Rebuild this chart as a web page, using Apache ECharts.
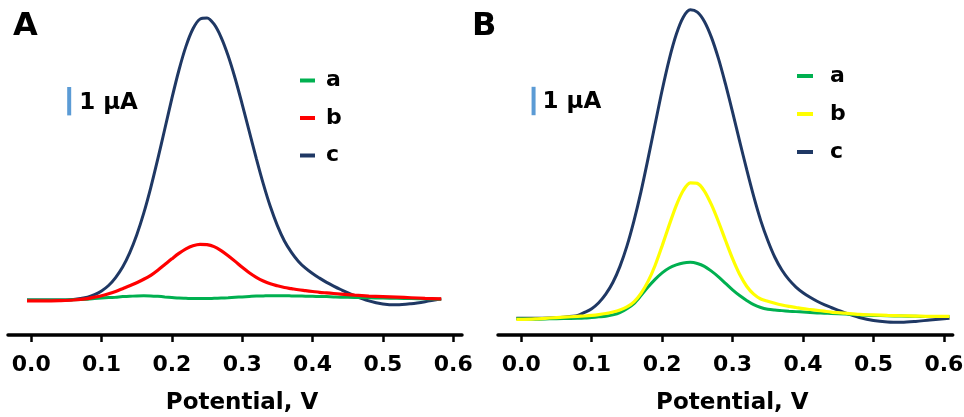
<!DOCTYPE html>
<html>
<head>
<meta charset="utf-8">
<script src="https://cdn.jsdelivr.net/npm/echarts@6/dist/echarts.min.js"></script>
<style>
  html, body { margin: 0; padding: 0; background: #ffffff; }
  #chart { width: 964px; height: 417px; }
</style>
</head>
<body>
<div id="chart"></div>
<script>
// ---------- Data (current in µA relative to baseline, potential in V) ----------
const tickValues = [0.0, 0.1, 0.2, 0.3, 0.4, 0.5, 0.6];

// Panel A
const potentialA = [-0.006, 0.02, 0.04, 0.06,
  0.08, 0.09, 0.10, 0.11, 0.12, 0.13, 0.14, 0.15, 0.16, 0.17,
  0.18, 0.19, 0.20, 0.21, 0.22, 0.23, 0.24, 0.25, 0.26, 0.27,
  0.28, 0.29, 0.30, 0.31, 0.32, 0.33, 0.34, 0.35, 0.36, 0.37,
  0.38, 0.39, 0.40, 0.41, 0.42, 0.43, 0.44,
  0.46, 0.48, 0.50, 0.52, 0.54, 0.56, 0.583];
const currentA_a = [0, 0, 0, 0.01,
  0.03, 0.05, 0.07, 0.085, 0.10, 0.12, 0.13, 0.145, 0.15, 0.145,
  0.13, 0.11, 0.09, 0.07, 0.06, 0.05, 0.05, 0.05, 0.06, 0.07,
  0.08, 0.095, 0.11, 0.125, 0.14, 0.145, 0.15, 0.15, 0.15, 0.145,
  0.14, 0.135, 0.13, 0.125, 0.12, 0.11, 0.10,
  0.09, 0.08, 0.07, 0.06, 0.05, 0.04, 0.03];
const currentA_b = [-0.03, -0.03, -0.02, 0.0,
  0.05, 0.10, 0.15, 0.22, 0.30, 0.40, 0.50, 0.61, 0.73, 0.87,
  1.05, 1.25, 1.45, 1.64, 1.80, 1.91, 1.96, 1.95, 1.88, 1.74,
  1.56, 1.36, 1.15, 0.96, 0.80, 0.67, 0.57, 0.50, 0.44, 0.40,
  0.36, 0.33, 0.30, 0.27, 0.25, 0.23, 0.21,
  0.17, 0.14, 0.12, 0.10, 0.08, 0.06, 0.04];
const currentA_c = [0, 0, 0, 0.02,
  0.10, 0.19, 0.32, 0.51, 0.79, 1.16, 1.66, 2.29, 3.06, 3.96,
  4.97, 6.03, 7.10, 8.09, 8.93, 9.55, 9.89, 9.93, 9.71, 9.25,
  8.60, 7.80, 6.89, 5.94, 4.99, 4.09, 3.29, 2.62, 2.08, 1.68,
  1.36, 1.12, 0.93, 0.77, 0.62, 0.49, 0.37,
  0.15, -0.03, -0.14, -0.17, -0.13, -0.06, 0.04];

// Panel B
const potentialB = [-0.007, 0.02, 0.04, 0.06,
  0.08, 0.09, 0.10, 0.11, 0.12, 0.13, 0.14, 0.15, 0.16, 0.17,
  0.18, 0.19, 0.20, 0.21, 0.22, 0.23, 0.24, 0.25, 0.26, 0.27,
  0.28, 0.29, 0.30, 0.31, 0.32, 0.33, 0.34, 0.35, 0.36, 0.37,
  0.38, 0.39, 0.40, 0.41, 0.42, 0.43, 0.44,
  0.46, 0.48, 0.50, 0.52, 0.54, 0.56, 0.58, 0.608];
const currentB_a = [-0.02, -0.03, -0.02, -0.01,
  0.0, 0.01, 0.03, 0.05, 0.07, 0.12, 0.20, 0.34, 0.52, 0.80,
  1.10, 1.37, 1.60, 1.77, 1.88, 1.95, 1.97, 1.93, 1.83, 1.66,
  1.46, 1.23, 1.00, 0.80, 0.63, 0.48, 0.38, 0.32, 0.29, 0.27,
  0.25, 0.235, 0.22, 0.205, 0.19, 0.18, 0.17,
  0.15, 0.12, 0.10, 0.09, 0.08, 0.07, 0.06, 0.06];
const currentB_b = [-0.04, -0.02, 0.01, 0.04,
  0.07, 0.08, 0.10, 0.13, 0.17, 0.22, 0.29, 0.40, 0.58, 0.88,
  1.30, 1.86, 2.55, 3.28, 3.97, 4.50, 4.77, 4.75, 4.48, 4.00,
  3.40, 2.74, 2.10, 1.55, 1.13, 0.85, 0.68, 0.60, 0.53, 0.47,
  0.42, 0.38, 0.34, 0.31, 0.28, 0.25, 0.22,
  0.18, 0.14, 0.12, 0.10, 0.09, 0.08, 0.07, 0.07];
const currentB_c = [0, 0, 0.01, 0.04,
  0.10, 0.21, 0.34, 0.55, 0.85, 1.26, 1.82, 2.54, 3.43, 4.46,
  5.62, 6.83, 8.03, 9.11, 9.99, 10.60, 10.86, 10.78, 10.45, 9.89,
  9.14, 8.24, 7.26, 6.24, 5.24, 4.29, 3.44, 2.74, 2.15, 1.70,
  1.36, 1.10, 0.90, 0.74, 0.60, 0.48, 0.38,
  0.19, 0.03, -0.08, -0.13, -0.14, -0.11, -0.06, 0.0];

// 1 µA scale bars: [potential, current start, current end]
const scaleBarA = [0.054, 6.5, 7.5];
const scaleBarB = [0.0175, 7.15, 8.15];
const scaleText = '1 µA';

const seriesNames = ['a', 'b', 'c'];
const panelLabels = ['A', 'B'];
const axisTitle = 'Potential, V';

// ---------- Styles ----------
const FONT = 'DejaVu Sans';
const colNavy = '#1f3864';
const colRed = '#ff0000';
const colGreen = '#00b050';
const colYellow = '#ffff00';
const colScale = '#5b9bd5';

function pairs(xs, ys) { return xs.map((x, i) => [x, ys[i]]); }

function xAxisFor(gridIndex) {
  return {
    type: 'value', gridIndex: gridIndex,
    min: -0.033, max: 0.6125,
    splitLine: { show: false },
    axisLine: { show: true, onZero: false, lineStyle: { color: '#000', width: 3.5 } },
    axisTick: { show: true, customValues: tickValues, length: 7, lineStyle: { color: '#000', width: 2.5 } },
    axisLabel: {
      customValues: tickValues, margin: 19,
      formatter: v => Number(v).toFixed(1),
      color: '#000', fontFamily: FONT, fontWeight: 'bold', fontSize: 22
    },
    name: axisTitle, nameLocation: 'middle', nameGap: 57,
    nameTextStyle: { color: '#000', fontFamily: FONT, fontWeight: 'bold', fontSize: 23, padding: [0, 0, 0, 14] }
  };
}

function lineSeries(name, xi, yi, data, color, width) {
  return {
    name: name, type: 'line', xAxisIndex: xi, yAxisIndex: yi,
    data: data, smooth: 0.3, showSymbol: false, symbol: 'none',
    lineStyle: { color: color, width: width }, itemStyle: { color: color },
    silent: true, animation: false
  };
}

const chart = echarts.init(document.getElementById('chart'), null, { renderer: 'canvas' });

const option = {
  animation: false,
  backgroundColor: '#ffffff',
  grid: [
    { left: 8, right: 502, top: 5, bottom: 82, containLabel: false, outerBoundsMode: 'none' },
    { left: 498, right: 11.3, top: 5, bottom: 82, containLabel: false, outerBoundsMode: 'none' }
  ],
  xAxis: [xAxisFor(0), xAxisFor(1)],
  yAxis: [
    { type: 'value', gridIndex: 0, min: -1.232, max: 10.387, show: false, splitLine: { show: false } },
    { type: 'value', gridIndex: 1, min: -0.588, max: 11.03, show: false, splitLine: { show: false } }
  ],
  legend: [
    {
      data: ['A-a', 'A-b', 'A-c'], orient: 'vertical', left: 300, top: 68.5, padding: 0,
      icon: 'rect', itemWidth: 15, itemHeight: 4, itemGap: 13.5,
      formatter: n => n.split('-')[1],
      textStyle: { color: '#000', fontFamily: FONT, fontWeight: 'bold', fontSize: 22, lineHeight: 24, padding: [0, 0, 0, 6] },
      selectedMode: false
    },
    {
      data: ['B-a', 'B-b', 'B-c'], orient: 'vertical', left: 797, top: 64, padding: 0,
      icon: 'rect', itemWidth: 16, itemHeight: 4, itemGap: 14,
      formatter: n => n.split('-')[1],
      textStyle: { color: '#000', fontFamily: FONT, fontWeight: 'bold', fontSize: 22, lineHeight: 24, padding: [0, 0, 0, 12] },
      selectedMode: false
    }
  ],
  series: [
    lineSeries('A-c', 0, 0, pairs(potentialA, currentA_c), colNavy, 3),
    lineSeries('A-a', 0, 0, pairs(potentialA, currentA_a), colGreen, 3),
    lineSeries('A-b', 0, 0, pairs(potentialA, currentA_b), colRed, 3.2),
    lineSeries('B-c', 1, 1, pairs(potentialB, currentB_c), colNavy, 3),
    lineSeries('B-a', 1, 1, pairs(potentialB, currentB_a), colGreen, 3),
    lineSeries('B-b', 1, 1, pairs(potentialB, currentB_b), colYellow, 3.2),
    Object.assign(lineSeries('scaleA', 0, 0, [[scaleBarA[0], scaleBarA[1]], [scaleBarA[0], scaleBarA[2]]], colScale, 4), { smooth: false }),
    Object.assign(lineSeries('scaleB', 1, 1, [[scaleBarB[0], scaleBarB[1]], [scaleBarB[0], scaleBarB[2]]], colScale, 4), { smooth: false })
  ]
};
chart.setOption(option);

// Text annotations positioned through the chart's own coordinate system
const pA = chart.convertToPixel({ gridIndex: 0 }, [scaleBarA[0], (scaleBarA[1] + scaleBarA[2]) / 2]);
const pB = chart.convertToPixel({ gridIndex: 1 }, [scaleBarB[0], (scaleBarB[1] + scaleBarB[2]) / 2]);
chart.setOption({
  graphic: [
    { type: 'text', left: 13, top: 11, style: { text: panelLabels[0], fill: '#000', font: 'bold 32px ' + FONT } },
    { type: 'text', left: 472, top: 11, style: { text: panelLabels[1], fill: '#000', font: 'bold 32px ' + FONT } },
    { type: 'text', x: pA[0] + 10, y: pA[1] + 2, style: { text: scaleText, fill: '#000', font: 'bold 23px ' + FONT, textVerticalAlign: 'middle', verticalAlign: 'middle' } },
    { type: 'text', x: pB[0] + 9, y: pB[1] + 1, style: { text: scaleText, fill: '#000', font: 'bold 23px ' + FONT, textVerticalAlign: 'middle', verticalAlign: 'middle' } }
  ]
});
</script>
</body>
</html>
